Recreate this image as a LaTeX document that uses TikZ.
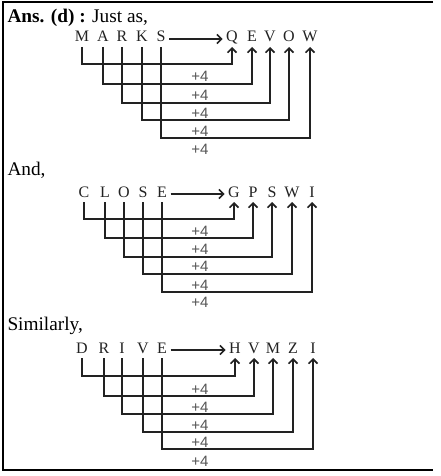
\documentclass[tikz,border=0pt]{standalone}
\usepackage{fontspec}
\setmainfont{Liberation Serif}
\newfontfamily\plusfont{Liberation Sans}
\usetikzlibrary{arrows.meta}
\definecolor{ink}{HTML}{222222}
\definecolor{plusgray}{HTML}{555555}
\tikzset{
  letter/.style={font=\fontsize{16}{16}\selectfont, text=ink, anchor=base, inner xsep=3.5pt, inner ysep=0pt, text height=10pt, text depth=0pt, outer ysep=5pt},
  heading/.style={font=\fontsize{19.3}{19.3}\selectfont, anchor=base west, inner sep=0pt},
  plus/.style={font=\plusfont\fontsize{15}{15}\selectfont, text=plusgray, inner sep=0pt},
  conn/.style={draw=ink, line width=2pt, -{Straight Barb[length=4.5pt,width=9pt,line width=1.6pt]}},
  frame/.style={draw=black, line width=2pt}
}
\begin{document}
\begin{tikzpicture}[x=1pt,y=-1pt]
\useasboundingbox (0,0) rectangle (440,476);
\draw[frame] (433,2) -- (3,2) -- (3,470) -- (433,470);

% Block 1
\node[heading] (h1) at (7.3,22.7) {\textbf{Ans. (d) :} Just as,};
\foreach \n/\t/\x in {s1/M/82, s2/A/103, s3/R/122, s4/K/142, s5/S/161,
                      t1/Q/232, t2/E/252, t3/V/270, t4/O/289, t5/W/310}
  \node[letter] (a\n) at (\x,42) {\t};
\draw[conn] ([yshift=-2pt]as5.east) -- ([yshift=-2pt]at1.west);
\foreach \i/\lv in {1/64, 2/84, 3/103, 4/120, 5/138}
  \draw[conn] (as\i.south) -- (as\i.south |- 0,\lv) -| (at\i.south);
\foreach \i/\y in {1/76.7, 2/95.7, 3/113.3, 4/131, 5/149}
  \node[plus] (ap\i) at (200,\y) {+4};

% Block 2
\node[heading] (h2) at (7.3,175) {And,};
\foreach \n/\t/\x in {s1/C/84, s2/L/105, s3/O/124, s4/S/143, s5/E/162,
                      t1/G/234, t2/P/253, t3/S/272, t4/W/292, t5/I/312}
  \node[letter] (b\n) at (\x,197) {\t};
\draw[conn] ([yshift=-2pt]bs5.east) -- ([yshift=-2pt]bt1.west);
\foreach \i/\lv in {1/219, 2/238, 3/257, 4/274, 5/292}
  \draw[conn] (bs\i.south) -- (bs\i.south |- 0,\lv) -| (bt\i.south);
\foreach \i/\y in {1/231, 2/249.3, 3/266.7, 4/285, 5/302.7}
  \node[plus] (bp\i) at (200,\y) {+4};

% Block 3
\node[heading] (h3) at (7.3,330.7) {Similarly,};
\foreach \n/\t/\x in {s1/D/82, s2/R/104, s3/I/122, s4/V/143, s5/E/162,
                      t1/H/235, t2/V/254, t3/M/273, t4/Z/293, t5/I/313}
  \node[letter] (c\n) at (\x,353) {\t};
\draw[conn] ([yshift=-2pt]cs5.east) -- ([yshift=-2pt]ct1.west);
\foreach \i/\lv in {1/376, 2/396, 3/414, 4/432, 5/449}
  \draw[conn] (cs\i.south) -- (cs\i.south |- 0,\lv) -| (ct\i.south);
\foreach \i/\y in {1/389.3, 2/407.3, 3/425, 4/442.7, 5/461.7}
  \node[plus] (cp\i) at (200,\y) {+4};
\end{tikzpicture}
\end{document}
